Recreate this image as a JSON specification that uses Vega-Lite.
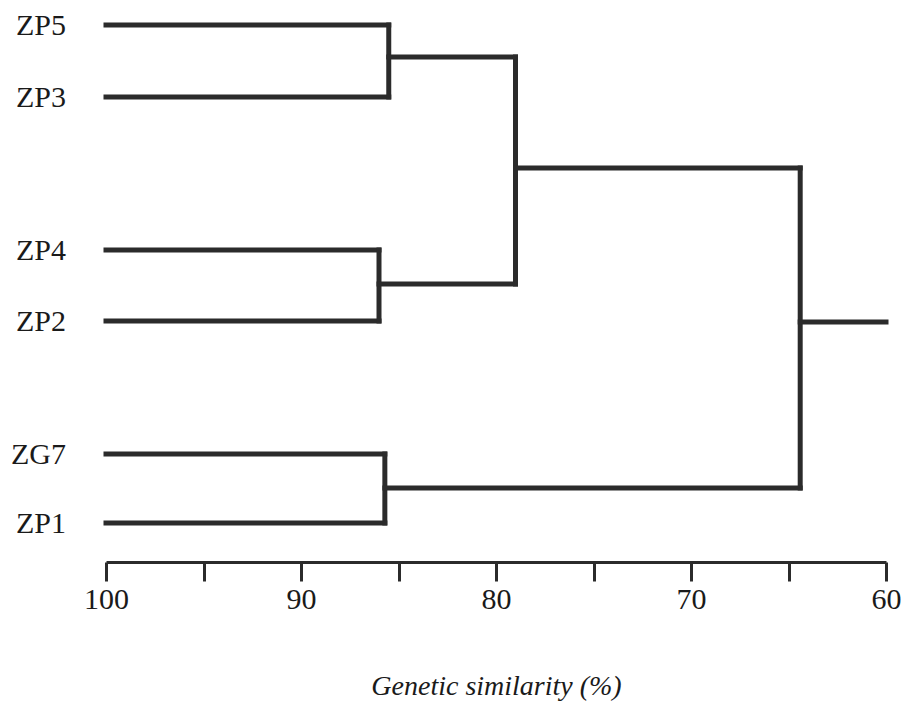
{
  "$schema": "https://vega.github.io/schema/vega-lite/v6.json",
  "width": 780,
  "height": 537,
  "autosize": {"type": "none"},
  "padding": {"left": 106, "top": 25, "right": 21, "bottom": 154},
  "background": "white",
  "config": {"view": {"stroke": null}},
  "datasets": {
    "branches": [
      {"x1": 100, "x2": 85.5, "y1": 537, "y2": 537},
      {"x1": 100, "x2": 85.5, "y1": 465, "y2": 465},
      {"x1": 85.5, "x2": 85.5, "y1": 537, "y2": 465},
      {"x1": 85.5, "x2": 79.0, "y1": 505, "y2": 505},
      {"x1": 100, "x2": 86.0, "y1": 312, "y2": 312},
      {"x1": 100, "x2": 86.0, "y1": 241, "y2": 241},
      {"x1": 86.0, "x2": 86.0, "y1": 312, "y2": 241},
      {"x1": 86.0, "x2": 79.0, "y1": 278, "y2": 278},
      {"x1": 79.0, "x2": 79.0, "y1": 505, "y2": 278},
      {"x1": 79.0, "x2": 64.4, "y1": 394, "y2": 394},
      {"x1": 100, "x2": 85.7, "y1": 108, "y2": 108},
      {"x1": 100, "x2": 85.7, "y1": 39, "y2": 39},
      {"x1": 85.7, "x2": 85.7, "y1": 108, "y2": 39},
      {"x1": 85.7, "x2": 64.4, "y1": 74, "y2": 74},
      {"x1": 64.4, "x2": 64.4, "y1": 394, "y2": 74},
      {"x1": 64.4, "x2": 60, "y1": 240, "y2": 240}
    ],
    "leaves": [
      {"name": "ZP5", "x": 100, "y": 537},
      {"name": "ZP3", "x": 100, "y": 465},
      {"name": "ZP4", "x": 100, "y": 312},
      {"name": "ZP2", "x": 100, "y": 241},
      {"name": "ZG7", "x": 100, "y": 108},
      {"name": "ZP1", "x": 100, "y": 39}
    ]
  },
  "layer": [
    {
      "data": {"name": "branches"},
      "mark": {"type": "rule", "color": "#2b2b2b", "strokeWidth": 5, "strokeCap": "square"},
      "encoding": {
        "x": {
          "field": "x1",
          "type": "quantitative",
          "scale": {"domain": [60, 100], "reverse": true, "nice": false, "zero": false},
          "axis": {
            "values": [100, 95, 90, 85, 80, 75, 70, 65, 60],
            "labelExpr": "datum.value % 10 == 0 ? datum.label : ''",
            "labelFlush": false,
            "grid": false,
            "tickSize": 19,
            "tickWidth": 3,
            "tickColor": "#2b2b2b",
            "domainWidth": 3,
            "domainColor": "#2b2b2b",
            "labelFont": "Liberation Serif",
            "labelFontSize": 30,
            "labelColor": "#1a1a1a",
            "labelPadding": 3,
            "title": "Genetic similarity (%)",
            "titleFont": "Liberation Serif",
            "titleFontSize": 28,
            "titleFontStyle": "italic",
            "titleFontWeight": "normal",
            "titleColor": "#1a1a1a",
            "titlePadding": 58
          }
        },
        "x2": {"field": "x2"},
        "y": {
          "field": "y1",
          "type": "quantitative",
          "scale": {"domain": [0, 537], "nice": false, "zero": false},
          "axis": null
        },
        "y2": {"field": "y2"}
      }
    },
    {
      "data": {"name": "leaves"},
      "mark": {
        "type": "text",
        "align": "right",
        "baseline": "middle",
        "dx": -40,
        "dy": 1,
        "font": "Liberation Serif",
        "fontSize": 30,
        "color": "#1a1a1a"
      },
      "encoding": {
        "x": {"field": "x", "type": "quantitative"},
        "y": {"field": "y", "type": "quantitative"},
        "text": {"field": "name", "type": "nominal"}
      }
    }
  ]
}
